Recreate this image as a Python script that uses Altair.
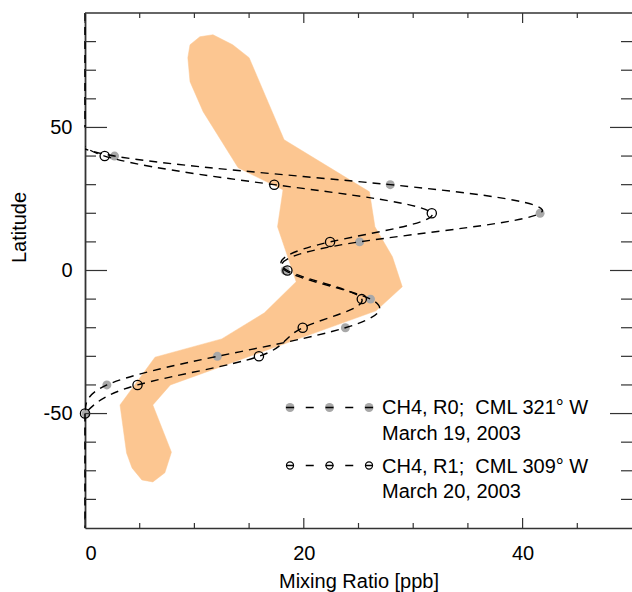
import altair as alt
import pandas as pd

# ---------------- data ----------------
curve_lat = [50, 40, 30, 20, 10, 0, -10, -20, -30, -40, -50]
r0_curve = [0, 2.7, 27.9, 41.6, 25.1, 18.3, 26.1, 23.8, 12.1, 2.0, 0]
r1_curve = [0, 1.8, 17.3, 31.7, 22.4, 18.5, 25.3, 19.9, 15.9, 4.8, 0]

# curves continue along zero towards the poles
north_cap_lat = [90, 50]
south_cap_lat = [-50, -90]
cap_ratio = [0, 0]

obs_lat = [40, 30, 20, 10, 0, -10, -20, -30, -40, -50]
r0_obs = [2.7, 27.9, 41.6, 25.1, 18.3, 26.1, 23.8, 12.1, 2.0, 0.1]
r1_obs = [1.8, 17.3, 31.7, 22.4, 18.5, 25.3, 19.9, 15.9, 4.8, 0.0]

# shaded band outline (mixing ratio, latitude), traced clockwise
band_ratio = [9.4, 9.6, 10.5, 11.7, 13.5, 15.0, 18.2, 26.0, 26.5, 28.1, 29.0, 26.6, 7.8, 6.2,
              7.9, 7.3, 6.2, 5.2, 4.3, 3.8, 3.2, 6.4, 12.5, 16.4, 19.3, 17.6, 18.1, 14.0, 10.8, 9.6, 9.4]
band_lat = [74.4, 78.9, 81.7, 82.4, 78.9, 74.4, 45.7, 27.5, 15.3, 4.8, -5.7, -14.1, -40.0, -47.0,
            -63.5, -70.7, -73.9, -73.2, -69.0, -63.8, -47.0, -30.3, -23.9, -14.8, -3.9, 15.3, 28.2, 35.9, 55.5, 66.0, 74.4]

x_major = [0, 20, 40]
x_minor = [5, 10, 15, 25, 30, 35, 45]
y_major = [50, 0, -50]
y_minor = [80, 70, 60, 40, 30, 20, 10, -10, -20, -30, -40, -60, -70, -80]

legend_r0 = ["CH4, R0;\u00a0 CML 321\u00b0 W", "March 19, 2003"]
legend_r1 = ["CH4, R1;\u00a0 CML 309\u00b0 W", "March 20, 2003"]
legend_slots = [0, 1, 2]

# ---------------- styling ----------------
W, H = 547, 515
FONT = "Liberation Sans, Arial, Helvetica, sans-serif"
ORANGE = "#FCC691"
GRAY = "#a8a8a8"
AXC = "#333333"

xs = alt.Scale(domain=[0, 50], nice=False, zero=False)
ys = alt.Scale(domain=[-90, 90], nice=False, zero=False)

xaxis = alt.Axis(title="Mixing Ratio [ppb]", values=x_major, labelExpr="'' + datum.value",
                 ticks=False, tickSize=0,
                 grid=False, labelPadding=15, labelFontSize=20, labelFont=FONT,
                 titleFontSize=20, titleFont=FONT, titleFontWeight="normal",
                 titleY=59, titleBaseline="alphabetic", titleColor="black", labelColor="black",
                 domainColor=AXC, domainWidth=1.6)
yaxis = alt.Axis(title="Latitude", values=y_major, labelExpr="'' + datum.value",
                 ticks=False, tickSize=0,
                 grid=False, labelPadding=13, labelFontSize=20, labelFont=FONT,
                 titleFontSize=20, titleFont=FONT, titleFontWeight="normal",
                 titleAngle=-90, titleX=-60, titleY=214, titleAlign="center",
                 titleBaseline="alphabetic", titleColor="black", labelColor="black",
                 domainColor=AXC, domainWidth=1.8)


def X(f):
    return alt.X(f, scale=xs, axis=xaxis)


def Y(f):
    return alt.Y(f, scale=ys, axis=yaxis)


band_df = pd.DataFrame({"v": band_ratio, "lat": band_lat, "i": range(len(band_lat))})
curve_df = pd.concat([
    pd.DataFrame({"v": r0_curve, "lat": curve_lat, "s": "R0", "i": range(len(curve_lat))}),
    pd.DataFrame({"v": r1_curve, "lat": curve_lat, "s": "R1", "i": range(len(curve_lat))}),
])
cap_df = pd.concat([
    pd.DataFrame({"v": cap_ratio, "lat": north_cap_lat, "s": "N", "i": [0, 1]}),
    pd.DataFrame({"v": cap_ratio, "lat": south_cap_lat, "s": "S", "i": [0, 1]}),
])
r0_df = pd.DataFrame({"v": r0_obs, "lat": obs_lat})
r1_df = pd.DataFrame({"v": r1_obs, "lat": obs_lat})
one = pd.DataFrame({"k": [0]})

band = alt.Chart(band_df).mark_line(fill=ORANGE, stroke=ORANGE, strokeWidth=0.5, opacity=1).encode(
    x=X("v:Q"), y=Y("lat:Q"), order="i:Q")

gray_pts = alt.Chart(r0_df).mark_circle(color=GRAY, size=80, opacity=1).encode(
    x=X("v:Q"), y=Y("lat:Q"))

curves = alt.Chart(curve_df).mark_line(interpolate="natural", strokeDash=[8, 6], strokeWidth=1.4,
                                       color="black", clip=True).encode(
    x=X("v:Q"), y=Y("lat:Q"), detail="s:N", order="i:Q")

caps = alt.Chart(cap_df).mark_line(strokeDash=[8, 6], strokeWidth=1.6, color="black",
                                   clip=False).encode(
    x=X("v:Q"), y=Y("lat:Q"), detail="s:N", order="i:Q")

open_pts = alt.Chart(r1_df).mark_point(shape="circle", filled=False, color="black", size=85,
                                       strokeWidth=1.3, opacity=1).encode(
    x=X("v:Q"), y=Y("lat:Q"))


def hticks(values, length):
    d = pd.DataFrame({"t": values})
    bottom = alt.Chart(d).mark_rule(color=AXC, strokeWidth=1.2).encode(
        x=X("t:Q"), y=alt.value(H), y2=alt.value(H - length))
    top = alt.Chart(d).mark_rule(color=AXC, strokeWidth=1.2).encode(
        x=X("t:Q"), y=alt.value(0), y2=alt.value(length))
    return [bottom, top]


def vticks(values, length):
    d = pd.DataFrame({"t": values})
    left = alt.Chart(d).mark_rule(color=AXC, strokeWidth=1.2).encode(
        y=Y("t:Q"), x=alt.value(0), x2=alt.value(length))
    right = alt.Chart(d).mark_rule(color=AXC, strokeWidth=1.2).encode(
        y=Y("t:Q"), x=alt.value(W), x2=alt.value(W - length))
    return [left, right]


top_line = alt.Chart(one).mark_rule(color=AXC, strokeWidth=1.6).encode(
    x=alt.value(0), x2=alt.value(W), y=alt.value(0))

tick_layers = hticks(x_major, 10) + hticks(x_minor, 5) + vticks(y_major, 22) + vticks(y_minor, 11)

# ---------------- legend ----------------
slots = pd.DataFrame({"slot": legend_slots})
LX0, LDX = 205, 39.5
leg_gray = alt.Chart(slots).transform_calculate(px=f"{LX0} + datum.slot * {LDX}").mark_circle(
    color=GRAY, size=80, opacity=1).encode(x=alt.X("px:Q", scale=None, axis=None), y=alt.value(394.5))
leg_line0 = alt.Chart(one).mark_rule(color="black", strokeWidth=1.4, strokeDash=[8, 11.75]).encode(
    x=alt.value(LX0 - 4), x2=alt.value(LX0 + 2 * LDX + 4), y=alt.value(394.5))
leg_open = alt.Chart(slots).transform_calculate(px=f"{LX0} + datum.slot * {LDX}").mark_point(
    shape="circle", filled=False, color="black", size=50, strokeWidth=1.2, opacity=1).encode(
    x=alt.X("px:Q", scale=None, axis=None), y=alt.value(452.5))
leg_line1 = alt.Chart(one).mark_rule(color="black", strokeWidth=1.4, strokeDash=[8, 11.75]).encode(
    x=alt.value(LX0 - 4), x2=alt.value(LX0 + 2 * LDX + 4), y=alt.value(452.5))


def ltext(s, ybase):
    return alt.Chart(one).mark_text(align="left", baseline="alphabetic", fontSize=20, font=FONT,
                                    color="black", text=s).encode(x=alt.value(297), y=alt.value(ybase))


legend_layers = [leg_gray, leg_line0, leg_open, leg_line1,
                 ltext(legend_r0[0], 401), ltext(legend_r0[1], 427),
                 ltext(legend_r1[0], 460), ltext(legend_r1[1], 485)]

chart = alt.layer(
    band, gray_pts, curves, caps, open_pts, top_line, *tick_layers, *legend_layers
).properties(
    width=W, height=H,
    autosize=alt.AutoSizeParams(type="none"),
    padding={"left": 85, "top": 13, "right": 0, "bottom": 64},
    background="white",
).configure_view(stroke=None)

chart.save("out.html", embed_options={"renderer": "svg", "actions": False})
